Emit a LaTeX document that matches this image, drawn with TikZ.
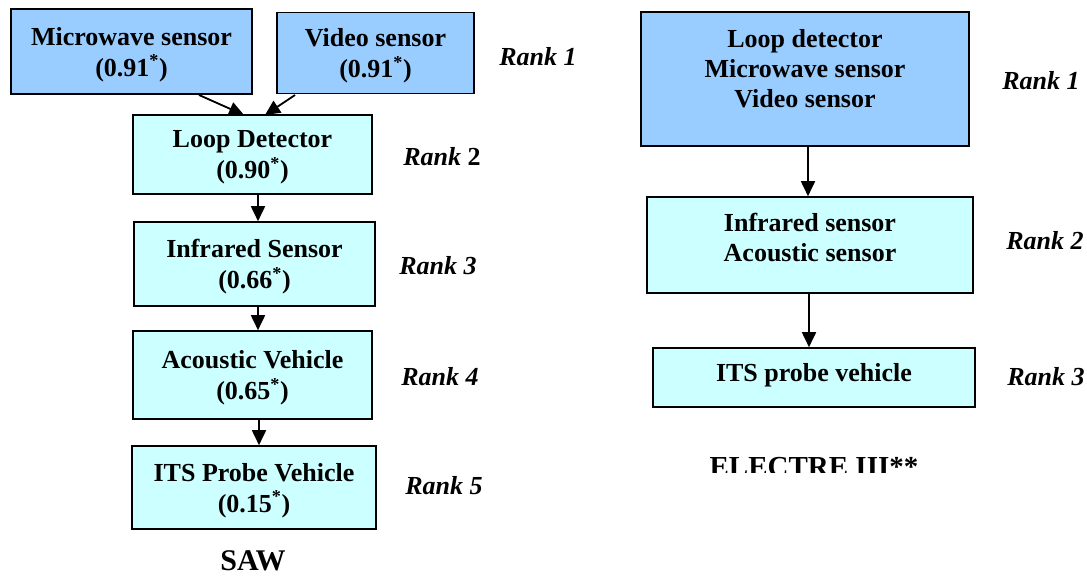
\documentclass[tikz,border=0pt]{standalone}
\usepackage{fontspec}
\setmainfont{Liberation Serif}
\usetikzlibrary{arrows.meta}
\definecolor{topblue}{HTML}{99CCFF}
\definecolor{paleblue}{HTML}{CCFFFF}
\tikzset{
  sensorbox/.style={draw=black, line width=1.6pt, rectangle, align=center,
    inner sep=0pt, text depth=0pt, font=\bfseries\fontsize{26}{31}\selectfont},
  topbox/.style={sensorbox, fill=topblue},
  lowbox/.style={sensorbox, fill=paleblue},
  boxtext/.style={align=center, inner sep=0pt, font=\bfseries\fontsize{26}{30}\selectfont},
  ranklabel/.style={anchor=base, inner sep=0pt, font=\bfseries\itshape\fontsize{26}{30}\selectfont},
  caption/.style={anchor=base, inner sep=0pt, font=\bfseries\fontsize{30}{34}\selectfont},
  flow/.style={line width=1.8pt, -{Triangle[length=15pt,width=14pt]}}
}
\begin{document}
\begin{tikzpicture}[x=1pt,y=-1pt]
\useasboundingbox (0,0) rectangle (1087,578);

% SAW ranking (left)
\node[topbox, minimum width=241pt, minimum height=85pt] (mw) at (131.5,51.5)
  {Microwave sensor\\(0.91\textsuperscript{*})};
\node[topbox, minimum width=197pt, minimum height=81pt] (vid) at (375.5,53)
  {Video sensor\\(0.91\textsuperscript{*})};
\node[lowbox, minimum width=239pt, minimum height=79pt] (loop) at (252.5,154.5)
  {Loop Detector\\(0.90\textsuperscript{*})};
\node[lowbox, minimum width=241pt, minimum height=84pt] (ir) at (254.5,264)
  {Infrared Sensor\\(0.66\textsuperscript{*})};
\node[lowbox, minimum width=239pt, minimum height=88pt] (ac) at (252.5,375)
  {Acoustic Vehicle\\(0.65\textsuperscript{*})};
\node[lowbox, minimum width=244pt, minimum height=83pt] (its) at (254,487.5)
  {ITS Probe Vehicle\\(0.15\textsuperscript{*})};

\coordinate (mwout) at (199,95);
\coordinate (loopinA) at (244,115);
\coordinate (vidout) at (295,95);
\coordinate (loopinB) at (265,115);
\draw[flow] (mwout) -- (loopinA);
\draw[flow] (vidout) -- (loopinB);
\draw[flow] (loop.south -| 258,0) -- (ir.north -| 258,0);
\draw[flow] (ir.south -| 258,0) -- (ac.north -| 258,0);
\draw[flow] (ac.south -| 259,0) -- (its.north -| 259,0);

\node[ranklabel] (lr1) at (538,66) {Rank 1};
\node[ranklabel] (lr2) at (442,165) {Rank \upshape 2};
\node[ranklabel] (lr3) at (438,274) {Rank 3};
\node[ranklabel] (lr4) at (440,385) {Rank 4};
\node[ranklabel] (lr5) at (444,494) {Rank 5};
\node[caption] (saw) at (253,570) {SAW};

% ELECTRE III ranking (right)
\node[topbox, minimum width=328pt, minimum height=134pt] (rtop) at (805,79) {};
\node[boxtext] (rtoptext) at (805,69) {Loop detector\\Microwave sensor\\Video sensor};
\node[lowbox, minimum width=326pt, minimum height=96pt] (rmid) at (810,245) {};
\node[boxtext] (rmidtext) at (810,238) {Infrared sensor\\Acoustic sensor};
\node[lowbox, minimum width=322pt, minimum height=59pt] (rlow) at (814,377.5) {};
\node[boxtext] (rlowtext) at (814,375) {ITS probe vehicle};

\draw[flow] (rtop.south -| 808,0) -- (rmid.north -| 808,0);
\draw[flow] (rmid.south -| 809,0) -- (rlow.north -| 809,0);

\node[ranklabel] (rr1) at (1041,89) {Rank 1};
\node[ranklabel] (rr2) at (1045,249) {Rank 2};
\node[ranklabel] (rr3) at (1046,385) {Rank 3};

\begin{scope}
  \clip (600,420) rectangle (1087,472);
  \node[caption, font=\bfseries\fontsize{29}{33}\selectfont] (electre) at (814,476) {ELECTRE III**};
\end{scope}
\end{tikzpicture}
\end{document}
